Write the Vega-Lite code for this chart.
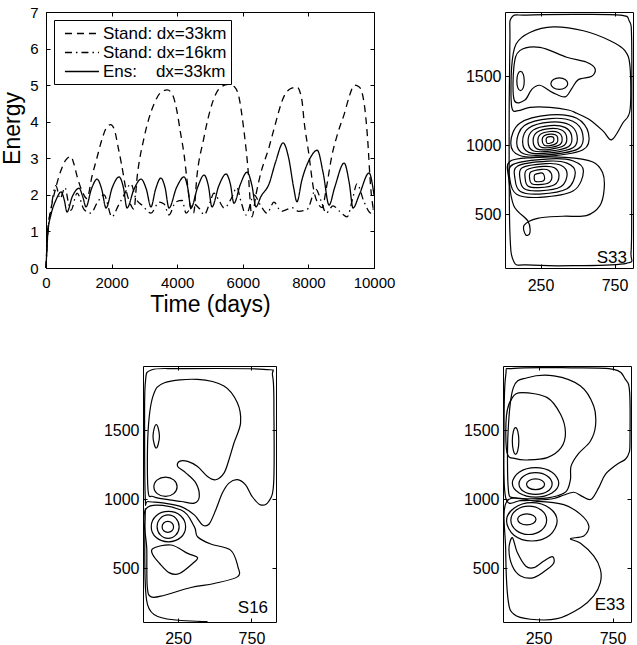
{
  "$schema": "https://vega.github.io/schema/vega-lite/v6.json",
  "padding": {"left": 1, "top": 4, "right": 0, "bottom": 0},
  "config": {
    "font": "Liberation Sans",
    "view": {"stroke": "black", "strokeWidth": 1},
    "axis": {"grid": false, "domain": false, "tickColor": "black", "tickSize": -4, "labelColor": "black", "labelFlush": false, "labelOverlap": false, "titleColor": "black", "titleFontWeight": "normal", "labelFont": "Liberation Sans", "titleFont": "Liberation Sans"}
  },
  "datasets": {
    "energy": [
      {"s":"Stand: dx=33km","t":0,"E":0},{"s":"Stand: dx=33km","t":50,"E":1.0},{"s":"Stand: dx=33km","t":150,"E":1.6},{"s":"Stand: dx=33km","t":300,"E":2.2},{"s":"Stand: dx=33km","t":450,"E":2.65},{"s":"Stand: dx=33km","t":600,"E":2.95},{"s":"Stand: dx=33km","t":760,"E":3.05},{"s":"Stand: dx=33km","t":850,"E":2.85},{"s":"Stand: dx=33km","t":950,"E":2.5},{"s":"Stand: dx=33km","t":1100,"E":2.1},{"s":"Stand: dx=33km","t":1250,"E":1.9},{"s":"Stand: dx=33km","t":1400,"E":2.5},{"s":"Stand: dx=33km","t":1550,"E":3.0},{"s":"Stand: dx=33km","t":1700,"E":3.5},{"s":"Stand: dx=33km","t":1850,"E":3.85},{"s":"Stand: dx=33km","t":1970,"E":3.92},{"s":"Stand: dx=33km","t":2080,"E":3.8},{"s":"Stand: dx=33km","t":2200,"E":3.3},{"s":"Stand: dx=33km","t":2300,"E":2.85},{"s":"Stand: dx=33km","t":2450,"E":2.1},{"s":"Stand: dx=33km","t":2600,"E":1.7},{"s":"Stand: dx=33km","t":2680,"E":1.6},{"s":"Stand: dx=33km","t":2780,"E":2.5},{"s":"Stand: dx=33km","t":3000,"E":3.6},{"s":"Stand: dx=33km","t":3300,"E":4.5},{"s":"Stand: dx=33km","t":3500,"E":4.8},{"s":"Stand: dx=33km","t":3700,"E":4.87},{"s":"Stand: dx=33km","t":3850,"E":4.75},{"s":"Stand: dx=33km","t":3990,"E":4.3},{"s":"Stand: dx=33km","t":4100,"E":3.7},{"s":"Stand: dx=33km","t":4210,"E":3.1},{"s":"Stand: dx=33km","t":4300,"E":2.4},{"s":"Stand: dx=33km","t":4420,"E":1.6},{"s":"Stand: dx=33km","t":4500,"E":1.5},{"s":"Stand: dx=33km","t":4600,"E":2.5},{"s":"Stand: dx=33km","t":4800,"E":3.5},{"s":"Stand: dx=33km","t":5000,"E":4.3},{"s":"Stand: dx=33km","t":5200,"E":4.8},{"s":"Stand: dx=33km","t":5340,"E":4.95},{"s":"Stand: dx=33km","t":5550,"E":5.02},{"s":"Stand: dx=33km","t":5750,"E":4.95},{"s":"Stand: dx=33km","t":5900,"E":4.6},{"s":"Stand: dx=33km","t":6000,"E":4.0},{"s":"Stand: dx=33km","t":6150,"E":2.8},{"s":"Stand: dx=33km","t":6280,"E":1.4},{"s":"Stand: dx=33km","t":6400,"E":2.0},{"s":"Stand: dx=33km","t":6550,"E":2.6},{"s":"Stand: dx=33km","t":6800,"E":3.3},{"s":"Stand: dx=33km","t":6950,"E":3.8},{"s":"Stand: dx=33km","t":7260,"E":4.7},{"s":"Stand: dx=33km","t":7450,"E":4.9},{"s":"Stand: dx=33km","t":7650,"E":4.95},{"s":"Stand: dx=33km","t":7800,"E":4.6},{"s":"Stand: dx=33km","t":7870,"E":4.0},{"s":"Stand: dx=33km","t":8000,"E":3.2},{"s":"Stand: dx=33km","t":8170,"E":2.1},{"s":"Stand: dx=33km","t":8300,"E":1.75},{"s":"Stand: dx=33km","t":8420,"E":1.65},{"s":"Stand: dx=33km","t":8550,"E":2.2},{"s":"Stand: dx=33km","t":8700,"E":3.0},{"s":"Stand: dx=33km","t":8900,"E":3.7},{"s":"Stand: dx=33km","t":9090,"E":4.2},{"s":"Stand: dx=33km","t":9250,"E":4.7},{"s":"Stand: dx=33km","t":9400,"E":5.0},{"s":"Stand: dx=33km","t":9550,"E":4.95},{"s":"Stand: dx=33km","t":9700,"E":4.5},{"s":"Stand: dx=33km","t":9800,"E":3.6},{"s":"Stand: dx=33km","t":9900,"E":2.2},{"s":"Stand: dx=33km","t":10000,"E":1.5},
      {"s":"Stand: dx=16km","t":0,"E":0},{"s":"Stand: dx=16km","t":60,"E":1.0},{"s":"Stand: dx=16km","t":150,"E":1.6},{"s":"Stand: dx=16km","t":300,"E":2.25},{"s":"Stand: dx=16km","t":430,"E":1.9},{"s":"Stand: dx=16km","t":580,"E":2.2},{"s":"Stand: dx=16km","t":680,"E":1.8},{"s":"Stand: dx=16km","t":760,"E":1.58},{"s":"Stand: dx=16km","t":950,"E":2.05},{"s":"Stand: dx=16km","t":1160,"E":1.6},{"s":"Stand: dx=16km","t":1370,"E":1.5},{"s":"Stand: dx=16km","t":1570,"E":1.8},{"s":"Stand: dx=16km","t":1770,"E":2.0},{"s":"Stand: dx=16km","t":2010,"E":1.4},{"s":"Stand: dx=16km","t":2200,"E":1.7},{"s":"Stand: dx=16km","t":2380,"E":2.0},{"s":"Stand: dx=16km","t":2590,"E":2.3},{"s":"Stand: dx=16km","t":2740,"E":1.9},{"s":"Stand: dx=16km","t":2950,"E":1.7},{"s":"Stand: dx=16km","t":3200,"E":1.5},{"s":"Stand: dx=16km","t":3450,"E":1.8},{"s":"Stand: dx=16km","t":3600,"E":1.75},{"s":"Stand: dx=16km","t":3750,"E":1.45},{"s":"Stand: dx=16km","t":3950,"E":1.8},{"s":"Stand: dx=16km","t":4150,"E":1.85},{"s":"Stand: dx=16km","t":4270,"E":1.5},{"s":"Stand: dx=16km","t":4500,"E":1.75},{"s":"Stand: dx=16km","t":4700,"E":1.6},{"s":"Stand: dx=16km","t":4820,"E":1.45},{"s":"Stand: dx=16km","t":5000,"E":1.8},{"s":"Stand: dx=16km","t":5120,"E":2.05},{"s":"Stand: dx=16km","t":5300,"E":1.8},{"s":"Stand: dx=16km","t":5430,"E":1.64},{"s":"Stand: dx=16km","t":5650,"E":1.9},{"s":"Stand: dx=16km","t":5820,"E":2.2},{"s":"Stand: dx=16km","t":5950,"E":1.8},{"s":"Stand: dx=16km","t":6100,"E":1.45},{"s":"Stand: dx=16km","t":6340,"E":2.0},{"s":"Stand: dx=16km","t":6550,"E":1.7},{"s":"Stand: dx=16km","t":6740,"E":1.5},{"s":"Stand: dx=16km","t":6950,"E":1.8},{"s":"Stand: dx=16km","t":7170,"E":1.55},{"s":"Stand: dx=16km","t":7350,"E":1.6},{"s":"Stand: dx=16km","t":7500,"E":1.65},{"s":"Stand: dx=16km","t":7700,"E":1.55},{"s":"Stand: dx=16km","t":7960,"E":1.6},{"s":"Stand: dx=16km","t":8230,"E":2.15},{"s":"Stand: dx=16km","t":8400,"E":1.8},{"s":"Stand: dx=16km","t":8540,"E":1.5},{"s":"Stand: dx=16km","t":8750,"E":1.7},{"s":"Stand: dx=16km","t":8950,"E":1.55},{"s":"Stand: dx=16km","t":9180,"E":1.4},{"s":"Stand: dx=16km","t":9350,"E":1.9},{"s":"Stand: dx=16km","t":9480,"E":2.3},{"s":"Stand: dx=16km","t":9700,"E":1.8},{"s":"Stand: dx=16km","t":9910,"E":1.5},{"s":"Stand: dx=16km","t":10000,"E":1.7},
      {"s":"Ens:\u00a0\u00a0\u00a0\u00a0dx=33km","t":0,"E":0},{"s":"Ens:\u00a0\u00a0\u00a0\u00a0dx=33km","t":60,"E":1.0},{"s":"Ens:\u00a0\u00a0\u00a0\u00a0dx=33km","t":150,"E":1.45},{"s":"Ens:\u00a0\u00a0\u00a0\u00a0dx=33km","t":300,"E":1.85},{"s":"Ens:\u00a0\u00a0\u00a0\u00a0dx=33km","t":460,"E":2.08},{"s":"Ens:\u00a0\u00a0\u00a0\u00a0dx=33km","t":560,"E":1.85},{"s":"Ens:\u00a0\u00a0\u00a0\u00a0dx=33km","t":640,"E":1.53},{"s":"Ens:\u00a0\u00a0\u00a0\u00a0dx=33km","t":800,"E":1.95},{"s":"Ens:\u00a0\u00a0\u00a0\u00a0dx=33km","t":1010,"E":2.18},{"s":"Ens:\u00a0\u00a0\u00a0\u00a0dx=33km","t":1120,"E":1.95},{"s":"Ens:\u00a0\u00a0\u00a0\u00a0dx=33km","t":1220,"E":1.67},{"s":"Ens:\u00a0\u00a0\u00a0\u00a0dx=33km","t":1380,"E":2.15},{"s":"Ens:\u00a0\u00a0\u00a0\u00a0dx=33km","t":1560,"E":2.43},{"s":"Ens:\u00a0\u00a0\u00a0\u00a0dx=33km","t":1700,"E":2.15},{"s":"Ens:\u00a0\u00a0\u00a0\u00a0dx=33km","t":1830,"E":1.64},{"s":"Ens:\u00a0\u00a0\u00a0\u00a0dx=33km","t":2020,"E":2.2},{"s":"Ens:\u00a0\u00a0\u00a0\u00a0dx=33km","t":2230,"E":2.49},{"s":"Ens:\u00a0\u00a0\u00a0\u00a0dx=33km","t":2360,"E":2.2},{"s":"Ens:\u00a0\u00a0\u00a0\u00a0dx=33km","t":2470,"E":1.64},{"s":"Ens:\u00a0\u00a0\u00a0\u00a0dx=33km","t":2680,"E":2.15},{"s":"Ens:\u00a0\u00a0\u00a0\u00a0dx=33km","t":2900,"E":2.43},{"s":"Ens:\u00a0\u00a0\u00a0\u00a0dx=33km","t":3060,"E":2.15},{"s":"Ens:\u00a0\u00a0\u00a0\u00a0dx=33km","t":3200,"E":1.67},{"s":"Ens:\u00a0\u00a0\u00a0\u00a0dx=33km","t":3340,"E":2.15},{"s":"Ens:\u00a0\u00a0\u00a0\u00a0dx=33km","t":3500,"E":2.46},{"s":"Ens:\u00a0\u00a0\u00a0\u00a0dx=33km","t":3630,"E":2.2},{"s":"Ens:\u00a0\u00a0\u00a0\u00a0dx=33km","t":3750,"E":1.64},{"s":"Ens:\u00a0\u00a0\u00a0\u00a0dx=33km","t":3980,"E":2.2},{"s":"Ens:\u00a0\u00a0\u00a0\u00a0dx=33km","t":4210,"E":2.49},{"s":"Ens:\u00a0\u00a0\u00a0\u00a0dx=33km","t":4320,"E":2.2},{"s":"Ens:\u00a0\u00a0\u00a0\u00a0dx=33km","t":4420,"E":1.64},{"s":"Ens:\u00a0\u00a0\u00a0\u00a0dx=33km","t":4620,"E":2.2},{"s":"Ens:\u00a0\u00a0\u00a0\u00a0dx=33km","t":4820,"E":2.54},{"s":"Ens:\u00a0\u00a0\u00a0\u00a0dx=33km","t":4950,"E":2.25},{"s":"Ens:\u00a0\u00a0\u00a0\u00a0dx=33km","t":5060,"E":1.67},{"s":"Ens:\u00a0\u00a0\u00a0\u00a0dx=33km","t":5270,"E":2.25},{"s":"Ens:\u00a0\u00a0\u00a0\u00a0dx=33km","t":5490,"E":2.57},{"s":"Ens:\u00a0\u00a0\u00a0\u00a0dx=33km","t":5620,"E":2.3},{"s":"Ens:\u00a0\u00a0\u00a0\u00a0dx=33km","t":5730,"E":1.77},{"s":"Ens:\u00a0\u00a0\u00a0\u00a0dx=33km","t":5930,"E":2.3},{"s":"Ens:\u00a0\u00a0\u00a0\u00a0dx=33km","t":6130,"E":2.62},{"s":"Ens:\u00a0\u00a0\u00a0\u00a0dx=33km","t":6280,"E":2.25},{"s":"Ens:\u00a0\u00a0\u00a0\u00a0dx=33km","t":6400,"E":1.67},{"s":"Ens:\u00a0\u00a0\u00a0\u00a0dx=33km","t":6550,"E":1.95},{"s":"Ens:\u00a0\u00a0\u00a0\u00a0dx=33km","t":6800,"E":2.3},{"s":"Ens:\u00a0\u00a0\u00a0\u00a0dx=33km","t":7000,"E":2.9},{"s":"Ens:\u00a0\u00a0\u00a0\u00a0dx=33km","t":7230,"E":3.42},{"s":"Ens:\u00a0\u00a0\u00a0\u00a0dx=33km","t":7400,"E":3.0},{"s":"Ens:\u00a0\u00a0\u00a0\u00a0dx=33km","t":7550,"E":2.2},{"s":"Ens:\u00a0\u00a0\u00a0\u00a0dx=33km","t":7650,"E":1.81},{"s":"Ens:\u00a0\u00a0\u00a0\u00a0dx=33km","t":7800,"E":2.4},{"s":"Ens:\u00a0\u00a0\u00a0\u00a0dx=33km","t":8050,"E":3.0},{"s":"Ens:\u00a0\u00a0\u00a0\u00a0dx=33km","t":8270,"E":3.22},{"s":"Ens:\u00a0\u00a0\u00a0\u00a0dx=33km","t":8450,"E":2.6},{"s":"Ens:\u00a0\u00a0\u00a0\u00a0dx=33km","t":8630,"E":1.72},{"s":"Ens:\u00a0\u00a0\u00a0\u00a0dx=33km","t":8800,"E":2.2},{"s":"Ens:\u00a0\u00a0\u00a0\u00a0dx=33km","t":9090,"E":2.87},{"s":"Ens:\u00a0\u00a0\u00a0\u00a0dx=33km","t":9250,"E":2.3},{"s":"Ens:\u00a0\u00a0\u00a0\u00a0dx=33km","t":9360,"E":1.64},{"s":"Ens:\u00a0\u00a0\u00a0\u00a0dx=33km","t":9550,"E":2.0},{"s":"Ens:\u00a0\u00a0\u00a0\u00a0dx=33km","t":9850,"E":2.6},{"s":"Ens:\u00a0\u00a0\u00a0\u00a0dx=33km","t":10000,"E":2.0}
    ],
    "labels": [
      {"p":"S33","x":834,"y":146,"label":"S33"},
      {"p":"S16","x":863,"y":175,"label":"S16"},
      {"p":"E33","x":834,"y":197,"label":"E33"}
    ],
    "contours": [
      {"p":"S33","c":"o1","i":0,"x":54,"y":1924},{"p":"S33","c":"o1","i":1,"x":156,"y":1943},{"p":"S33","c":"o1","i":2,"x":472,"y":1948},{"p":"S33","c":"o1","i":3,"x":788,"y":1943},{"p":"S33","c":"o1","i":4,"x":850,"y":1900},{"p":"S33","c":"o1","i":5,"x":866,"y":1757},{"p":"S33","c":"o1","i":6,"x":866,"y":1088},{"p":"S33","c":"o1","i":7,"x":866,"y":610},{"p":"S33","c":"o1","i":8,"x":862,"y":227},{"p":"S33","c":"o1","i":9,"x":830,"y":144},{"p":"S33","c":"o1","i":10,"x":472,"y":127},{"p":"S33","c":"o1","i":11,"x":156,"y":132},{"p":"S33","c":"o1","i":12,"x":70,"y":156},{"p":"S33","c":"o1","i":13,"x":43,"y":371},{"p":"S33","c":"o1","i":14,"x":38,"y":1088},{"p":"S33","c":"o1","i":15,"x":43,"y":1757},
      {"p":"S33","c":"c2","i":0,"x":55,"y":1279},{"p":"S33","c":"c2","i":1,"x":55,"y":1566},{"p":"S33","c":"c2","i":2,"x":85,"y":1733},{"p":"S33","c":"c2","i":3,"x":178,"y":1817},{"p":"S33","c":"c2","i":4,"x":336,"y":1857},{"p":"S33","c":"c2","i":5,"x":540,"y":1829},{"p":"S33","c":"c2","i":6,"x":721,"y":1757},{"p":"S33","c":"c2","i":7,"x":820,"y":1685},{"p":"S33","c":"c2","i":8,"x":855,"y":1566},{"p":"S33","c":"c2","i":9,"x":855,"y":1255},{"p":"S33","c":"c2","i":10,"x":805,"y":1159},{"p":"S33","c":"c2","i":11,"x":732,"y":1040},{"p":"S33","c":"c2","i":12,"x":675,"y":1100},{"p":"S33","c":"c2","i":13,"x":585,"y":1183},{"p":"S33","c":"c2","i":14,"x":495,"y":1231},{"p":"S33","c":"c2","i":15,"x":438,"y":1255},{"p":"S33","c":"c2","i":16,"x":314,"y":1274},{"p":"S33","c":"c2","i":17,"x":178,"y":1274},{"p":"S33","c":"c2","i":18,"x":99,"y":1250},
      {"p":"S33","c":"c3","i":0,"x":72,"y":1327},{"p":"S33","c":"c3","i":1,"x":70,"y":1566},{"p":"S33","c":"c3","i":2,"x":110,"y":1685},{"p":"S33","c":"c3","i":3,"x":246,"y":1709},{"p":"S33","c":"c3","i":4,"x":427,"y":1637},{"p":"S33","c":"c3","i":5,"x":562,"y":1601},{"p":"S33","c":"c3","i":6,"x":619,"y":1554},{"p":"S33","c":"c3","i":7,"x":596,"y":1499},{"p":"S33","c":"c3","i":8,"x":506,"y":1475},{"p":"S33","c":"c3","i":9,"x":461,"y":1410},{"p":"S33","c":"c3","i":10,"x":416,"y":1350},{"p":"S33","c":"c3","i":11,"x":336,"y":1379},{"p":"S33","c":"c3","i":12,"x":246,"y":1434},{"p":"S33","c":"c3","i":13,"x":190,"y":1403},{"p":"S33","c":"c3","i":14,"x":144,"y":1327},
      {"p":"S33","c":"l1","i":0,"x":115,"y":1535},{"p":"S33","c":"l1","i":1,"x":133,"y":1515},{"p":"S33","c":"l1","i":2,"x":140,"y":1465},{"p":"S33","c":"l1","i":3,"x":133,"y":1415},{"p":"S33","c":"l1","i":4,"x":115,"y":1395},{"p":"S33","c":"l1","i":5,"x":97,"y":1415},{"p":"S33","c":"l1","i":6,"x":90,"y":1465},{"p":"S33","c":"l1","i":7,"x":97,"y":1515},
      {"p":"S33","c":"l2","i":0,"x":377,"y":1487},{"p":"S33","c":"l2","i":1,"x":417,"y":1475},{"p":"S33","c":"l2","i":2,"x":434,"y":1446},{"p":"S33","c":"l2","i":3,"x":417,"y":1417},{"p":"S33","c":"l2","i":4,"x":377,"y":1405},{"p":"S33","c":"l2","i":5,"x":337,"y":1417},{"p":"S33","c":"l2","i":6,"x":320,"y":1446},{"p":"S33","c":"l2","i":7,"x":337,"y":1475},
      {"p":"S33","c":"n1","i":0,"x":314,"y":1219},{"p":"S33","c":"n1","i":1,"x":495,"y":1195},{"p":"S33","c":"n1","i":2,"x":574,"y":1088},{"p":"S33","c":"n1","i":3,"x":540,"y":968},{"p":"S33","c":"n1","i":4,"x":314,"y":920},{"p":"S33","c":"n1","i":5,"x":110,"y":925},{"p":"S33","c":"n1","i":6,"x":49,"y":1016},{"p":"S33","c":"n1","i":7,"x":110,"y":1159},
      {"p":"S33","c":"n2","i":0,"x":314,"y":1193},{"p":"S33","c":"n2","i":1,"x":468,"y":1173},{"p":"S33","c":"n2","i":2,"x":535,"y":1082},{"p":"S33","c":"n2","i":3,"x":506,"y":975},{"p":"S33","c":"n2","i":4,"x":314,"y":932},{"p":"S33","c":"n2","i":5,"x":141,"y":936},{"p":"S33","c":"n2","i":6,"x":89,"y":1020},{"p":"S33","c":"n2","i":7,"x":141,"y":1142},
      {"p":"S33","c":"n3","i":0,"x":314,"y":1167},{"p":"S33","c":"n3","i":1,"x":441,"y":1150},{"p":"S33","c":"n3","i":2,"x":496,"y":1075},{"p":"S33","c":"n3","i":3,"x":472,"y":983},{"p":"S33","c":"n3","i":4,"x":314,"y":944},{"p":"S33","c":"n3","i":5,"x":171,"y":948},{"p":"S33","c":"n3","i":6,"x":129,"y":1025},{"p":"S33","c":"n3","i":7,"x":171,"y":1125},
      {"p":"S33","c":"n4","i":0,"x":314,"y":1142},{"p":"S33","c":"n4","i":1,"x":415,"y":1129},{"p":"S33","c":"n4","i":2,"x":460,"y":1069},{"p":"S33","c":"n4","i":3,"x":441,"y":991},{"p":"S33","c":"n4","i":4,"x":314,"y":957},{"p":"S33","c":"n4","i":5,"x":200,"y":960},{"p":"S33","c":"n4","i":6,"x":166,"y":1029},{"p":"S33","c":"n4","i":7,"x":200,"y":1109},
      {"p":"S33","c":"n5","i":0,"x":314,"y":1120},{"p":"S33","c":"n5","i":1,"x":392,"y":1110},{"p":"S33","c":"n5","i":2,"x":426,"y":1063},{"p":"S33","c":"n5","i":3,"x":411,"y":999},{"p":"S33","c":"n5","i":4,"x":314,"y":970},{"p":"S33","c":"n5","i":5,"x":226,"y":973},{"p":"S33","c":"n5","i":6,"x":200,"y":1033},{"p":"S33","c":"n5","i":7,"x":226,"y":1094},
      {"p":"S33","c":"n6","i":0,"x":314,"y":1099},{"p":"S33","c":"n6","i":1,"x":370,"y":1092},{"p":"S33","c":"n6","i":2,"x":395,"y":1058},{"p":"S33","c":"n6","i":3,"x":384,"y":1007},{"p":"S33","c":"n6","i":4,"x":314,"y":983},{"p":"S33","c":"n6","i":5,"x":251,"y":986},{"p":"S33","c":"n6","i":6,"x":232,"y":1036},{"p":"S33","c":"n6","i":7,"x":251,"y":1080},
      {"p":"S33","c":"n7","i":0,"x":314,"y":1080},{"p":"S33","c":"n7","i":1,"x":350,"y":1075},{"p":"S33","c":"n7","i":2,"x":366,"y":1054},{"p":"S33","c":"n7","i":3,"x":360,"y":1016},{"p":"S33","c":"n7","i":4,"x":314,"y":997},{"p":"S33","c":"n7","i":5,"x":275,"y":1000},{"p":"S33","c":"n7","i":6,"x":261,"y":1039},{"p":"S33","c":"n7","i":7,"x":275,"y":1068},
      {"p":"S33","c":"n8","i":0,"x":314,"y":1062},{"p":"S33","c":"n8","i":1,"x":332,"y":1060},{"p":"S33","c":"n8","i":2,"x":340,"y":1049},{"p":"S33","c":"n8","i":3,"x":337,"y":1026},{"p":"S33","c":"n8","i":4,"x":314,"y":1014},{"p":"S33","c":"n8","i":5,"x":294,"y":1015},{"p":"S33","c":"n8","i":6,"x":288,"y":1042},{"p":"S33","c":"n8","i":7,"x":294,"y":1056},
      {"p":"S33","c":"s1","i":0,"x":315,"y":901},{"p":"S33","c":"s1","i":1,"x":472,"y":885},{"p":"S33","c":"s1","i":2,"x":540,"y":813},{"p":"S33","c":"s1","i":3,"x":472,"y":669},{"p":"S33","c":"s1","i":4,"x":246,"y":622},{"p":"S33","c":"s1","i":5,"x":88,"y":645},{"p":"S33","c":"s1","i":6,"x":43,"y":753},{"p":"S33","c":"s1","i":7,"x":65,"y":861},
      {"p":"S33","c":"s2","i":0,"x":301,"y":884},{"p":"S33","c":"s2","i":1,"x":429,"y":870},{"p":"S33","c":"s2","i":2,"x":485,"y":802},{"p":"S33","c":"s2","i":3,"x":429,"y":684},{"p":"S33","c":"s2","i":4,"x":244,"y":646},{"p":"S33","c":"s2","i":5,"x":114,"y":664},{"p":"S33","c":"s2","i":6,"x":78,"y":753},{"p":"S33","c":"s2","i":7,"x":96,"y":849},
      {"p":"S33","c":"s3","i":0,"x":286,"y":866},{"p":"S33","c":"s3","i":1,"x":387,"y":854},{"p":"S33","c":"s3","i":2,"x":430,"y":791},{"p":"S33","c":"s3","i":3,"x":387,"y":699},{"p":"S33","c":"s3","i":4,"x":242,"y":669},{"p":"S33","c":"s3","i":5,"x":141,"y":684},{"p":"S33","c":"s3","i":6,"x":112,"y":753},{"p":"S33","c":"s3","i":7,"x":126,"y":836},
      {"p":"S33","c":"s4","i":0,"x":272,"y":846},{"p":"S33","c":"s4","i":1,"x":344,"y":836},{"p":"S33","c":"s4","i":2,"x":375,"y":781},{"p":"S33","c":"s4","i":3,"x":344,"y":714},{"p":"S33","c":"s4","i":4,"x":240,"y":693},{"p":"S33","c":"s4","i":5,"x":167,"y":703},{"p":"S33","c":"s4","i":6,"x":147,"y":753},{"p":"S33","c":"s4","i":7,"x":157,"y":821},
      {"p":"S33","c":"s5","i":0,"x":259,"y":825},{"p":"S33","c":"s5","i":1,"x":306,"y":817},{"p":"S33","c":"s5","i":2,"x":327,"y":771},{"p":"S33","c":"s5","i":3,"x":306,"y":728},{"p":"S33","c":"s5","i":4,"x":238,"y":714},{"p":"S33","c":"s5","i":5,"x":191,"y":721},{"p":"S33","c":"s5","i":6,"x":177,"y":753},{"p":"S33","c":"s5","i":7,"x":184,"y":805},
      {"p":"S33","c":"s6","i":0,"x":246,"y":798},{"p":"S33","c":"s6","i":1,"x":268,"y":794},{"p":"S33","c":"s6","i":2,"x":278,"y":761},{"p":"S33","c":"s6","i":3,"x":268,"y":741},{"p":"S33","c":"s6","i":4,"x":237,"y":735},{"p":"S33","c":"s6","i":5,"x":214,"y":738},{"p":"S33","c":"s6","i":6,"x":208,"y":753},{"p":"S33","c":"s6","i":7,"x":211,"y":786},
      {"p":"S33","c":"c4","i":0,"x":40,"y":880},{"p":"S33","c":"c4","i":1,"x":200,"y":910},{"p":"S33","c":"c4","i":2,"x":420,"y":912},{"p":"S33","c":"c4","i":3,"x":600,"y":880},{"p":"S33","c":"c4","i":4,"x":670,"y":800},{"p":"S33","c":"c4","i":5,"x":680,"y":680},{"p":"S33","c":"c4","i":6,"x":650,"y":560},{"p":"S33","c":"c4","i":7,"x":560,"y":490},{"p":"S33","c":"c4","i":8,"x":400,"y":485},{"p":"S33","c":"c4","i":9,"x":230,"y":470},{"p":"S33","c":"c4","i":10,"x":140,"y":420},{"p":"S33","c":"c4","i":11,"x":150,"y":350},{"p":"S33","c":"c4","i":12,"x":178,"y":365},{"p":"S33","c":"c4","i":13,"x":165,"y":450},{"p":"S33","c":"c4","i":14,"x":70,"y":560},{"p":"S33","c":"c4","i":15,"x":36,"y":753},

      {"p":"S16","c":"n1","i":0,"x":28,"y":995},{"p":"S16","c":"n1","i":1,"x":23,"y":1480},{"p":"S16","c":"n1","i":2,"x":28,"y":1844},{"p":"S16","c":"n1","i":3,"x":68,"y":1936},{"p":"S16","c":"n1","i":4,"x":271,"y":1946},{"p":"S16","c":"n1","i":5,"x":834,"y":1941},{"p":"S16","c":"n1","i":6,"x":894,"y":1892},{"p":"S16","c":"n1","i":7,"x":903,"y":1601},{"p":"S16","c":"n1","i":8,"x":901,"y":1116},{"p":"S16","c":"n1","i":9,"x":867,"y":983},{"p":"S16","c":"n1","i":10,"x":811,"y":959},{"p":"S16","c":"n1","i":11,"x":755,"y":1019},{"p":"S16","c":"n1","i":12,"x":710,"y":1104},{"p":"S16","c":"n1","i":13,"x":654,"y":1141},{"p":"S16","c":"n1","i":14,"x":597,"y":1116},{"p":"S16","c":"n1","i":15,"x":552,"y":1044},{"p":"S16","c":"n1","i":16,"x":507,"y":922},{"p":"S16","c":"n1","i":17,"x":462,"y":820},{"p":"S16","c":"n1","i":18,"x":417,"y":813},{"p":"S16","c":"n1","i":19,"x":361,"y":886},{"p":"S16","c":"n1","i":20,"x":271,"y":946},{"p":"S16","c":"n1","i":21,"x":158,"y":971},{"p":"S16","c":"n1","i":22,"x":46,"y":983},
      {"p":"S16","c":"n2","i":0,"x":46,"y":1068},{"p":"S16","c":"n2","i":1,"x":46,"y":1480},{"p":"S16","c":"n2","i":2,"x":80,"y":1747},{"p":"S16","c":"n2","i":3,"x":158,"y":1844},{"p":"S16","c":"n2","i":4,"x":383,"y":1868},{"p":"S16","c":"n2","i":5,"x":563,"y":1820},{"p":"S16","c":"n2","i":6,"x":654,"y":1698},{"p":"S16","c":"n2","i":7,"x":676,"y":1553},{"p":"S16","c":"n2","i":8,"x":631,"y":1407},{"p":"S16","c":"n2","i":9,"x":597,"y":1286},{"p":"S16","c":"n2","i":10,"x":563,"y":1189},{"p":"S16","c":"n2","i":11,"x":507,"y":1141},{"p":"S16","c":"n2","i":12,"x":451,"y":1165},{"p":"S16","c":"n2","i":13,"x":383,"y":1237},{"p":"S16","c":"n2","i":14,"x":316,"y":1274},{"p":"S16","c":"n2","i":15,"x":260,"y":1274},{"p":"S16","c":"n2","i":16,"x":248,"y":1237},{"p":"S16","c":"n2","i":17,"x":305,"y":1189},{"p":"S16","c":"n2","i":18,"x":372,"y":1116},{"p":"S16","c":"n2","i":19,"x":395,"y":1019},{"p":"S16","c":"n2","i":20,"x":361,"y":971},{"p":"S16","c":"n2","i":21,"x":271,"y":983},{"p":"S16","c":"n2","i":22,"x":158,"y":1000},{"p":"S16","c":"n2","i":23,"x":80,"y":1019},
      {"p":"S16","c":"nl","i":0,"x":165,"y":1160},{"p":"S16","c":"nl","i":1,"x":221,"y":1140},{"p":"S16","c":"nl","i":2,"x":244,"y":1090},{"p":"S16","c":"nl","i":3,"x":221,"y":1040},{"p":"S16","c":"nl","i":4,"x":165,"y":1020},{"p":"S16","c":"nl","i":5,"x":109,"y":1040},{"p":"S16","c":"nl","i":6,"x":86,"y":1090},{"p":"S16","c":"nl","i":7,"x":109,"y":1140},
      {"p":"S16","c":"sm","i":0,"x":102,"y":1541},{"p":"S16","c":"sm","i":1,"x":115,"y":1516},{"p":"S16","c":"sm","i":2,"x":124,"y":1456},{"p":"S16","c":"sm","i":3,"x":115,"y":1396},{"p":"S16","c":"sm","i":4,"x":102,"y":1371},{"p":"S16","c":"sm","i":5,"x":89,"y":1396},{"p":"S16","c":"sm","i":6,"x":80,"y":1456},{"p":"S16","c":"sm","i":7,"x":89,"y":1516},
      {"p":"S16","c":"s2","i":0,"x":35,"y":934},{"p":"S16","c":"s2","i":1,"x":271,"y":922},{"p":"S16","c":"s2","i":2,"x":361,"y":801},{"p":"S16","c":"s2","i":3,"x":383,"y":728},{"p":"S16","c":"s2","i":4,"x":473,"y":675},{"p":"S16","c":"s2","i":5,"x":608,"y":631},{"p":"S16","c":"s2","i":6,"x":658,"y":510},{"p":"S16","c":"s2","i":7,"x":654,"y":437},{"p":"S16","c":"s2","i":8,"x":496,"y":389},{"p":"S16","c":"s2","i":9,"x":338,"y":360},{"p":"S16","c":"s2","i":10,"x":158,"y":304},{"p":"S16","c":"s2","i":11,"x":68,"y":292},{"p":"S16","c":"s2","i":12,"x":41,"y":365},{"p":"S16","c":"s2","i":13,"x":38,"y":631},
      {"p":"S16","c":"s3","i":0,"x":80,"y":643},{"p":"S16","c":"s3","i":1,"x":203,"y":668},{"p":"S16","c":"s3","i":2,"x":316,"y":607},{"p":"S16","c":"s3","i":3,"x":383,"y":578},{"p":"S16","c":"s3","i":4,"x":350,"y":534},{"p":"S16","c":"s3","i":5,"x":260,"y":461},{"p":"S16","c":"s3","i":6,"x":192,"y":466},{"p":"S16","c":"s3","i":7,"x":125,"y":534},{"p":"S16","c":"s3","i":8,"x":80,"y":595},
      {"p":"S16","c":"sa","i":0,"x":181,"y":839},{"p":"S16","c":"sa","i":1,"x":209,"y":827},{"p":"S16","c":"sa","i":2,"x":220,"y":799},{"p":"S16","c":"sa","i":3,"x":209,"y":771},{"p":"S16","c":"sa","i":4,"x":181,"y":759},{"p":"S16","c":"sa","i":5,"x":153,"y":771},{"p":"S16","c":"sa","i":6,"x":142,"y":799},{"p":"S16","c":"sa","i":7,"x":153,"y":827},
      {"p":"S16","c":"sb","i":0,"x":183,"y":886},{"p":"S16","c":"sb","i":1,"x":236,"y":861},{"p":"S16","c":"sb","i":2,"x":258,"y":801},{"p":"S16","c":"sb","i":3,"x":236,"y":741},{"p":"S16","c":"sb","i":4,"x":183,"y":716},{"p":"S16","c":"sb","i":5,"x":130,"y":741},{"p":"S16","c":"sb","i":6,"x":108,"y":801},{"p":"S16","c":"sb","i":7,"x":130,"y":861},
      {"p":"S16","c":"sc","i":0,"x":185,"y":911},{"p":"S16","c":"sc","i":1,"x":268,"y":880},{"p":"S16","c":"sc","i":2,"x":302,"y":801},{"p":"S16","c":"sc","i":3,"x":268,"y":722},{"p":"S16","c":"sc","i":4,"x":185,"y":691},{"p":"S16","c":"sc","i":5,"x":102,"y":722},{"p":"S16","c":"sc","i":6,"x":68,"y":801},{"p":"S16","c":"sc","i":7,"x":102,"y":880},
      {"p":"S16","c":"open1","i":0,"x":28,"y":934},{"p":"S16","c":"open1","i":1,"x":23,"y":700},{"p":"S16","c":"open1","i":2,"x":25,"y":400},{"p":"S16","c":"open1","i":3,"x":35,"y":219},{"p":"S16","c":"open1","i":4,"x":91,"y":141},{"p":"S16","c":"open1","i":5,"x":271,"y":118},{"p":"S16","c":"open1","i":6,"x":451,"y":112},

      {"p":"E33","c":"n1","i":0,"x":28,"y":1011},{"p":"E33","c":"n1","i":1,"x":17,"y":1482},{"p":"E33","c":"n1","i":2,"x":28,"y":1893},{"p":"E33","c":"n1","i":3,"x":84,"y":1948},{"p":"E33","c":"n1","i":4,"x":466,"y":1952},{"p":"E33","c":"n1","i":5,"x":758,"y":1941},{"p":"E33","c":"n1","i":6,"x":837,"y":1868},{"p":"E33","c":"n1","i":7,"x":866,"y":1772},{"p":"E33","c":"n1","i":8,"x":868,"y":1410},{"p":"E33","c":"n1","i":9,"x":862,"y":1337},{"p":"E33","c":"n1","i":10,"x":837,"y":1289},{"p":"E33","c":"n1","i":11,"x":781,"y":1253},{"p":"E33","c":"n1","i":12,"x":702,"y":1180},{"p":"E33","c":"n1","i":13,"x":657,"y":1084},{"p":"E33","c":"n1","i":14,"x":605,"y":999},{"p":"E33","c":"n1","i":15,"x":545,"y":1020},{"p":"E33","c":"n1","i":16,"x":489,"y":1050},{"p":"E33","c":"n1","i":17,"x":421,"y":1030},{"p":"E33","c":"n1","i":18,"x":354,"y":1005},{"p":"E33","c":"n1","i":19,"x":241,"y":993},{"p":"E33","c":"n1","i":20,"x":129,"y":990},
      {"p":"E33","c":"n2","i":0,"x":46,"y":1071},{"p":"E33","c":"n2","i":1,"x":44,"y":1482},{"p":"E33","c":"n2","i":2,"x":80,"y":1808},{"p":"E33","c":"n2","i":3,"x":174,"y":1880},{"p":"E33","c":"n2","i":4,"x":354,"y":1893},{"p":"E33","c":"n2","i":5,"x":534,"y":1820},{"p":"E33","c":"n2","i":6,"x":623,"y":1675},{"p":"E33","c":"n2","i":7,"x":635,"y":1530},{"p":"E33","c":"n2","i":8,"x":600,"y":1420},{"p":"E33","c":"n2","i":9,"x":520,"y":1330},{"p":"E33","c":"n2","i":10,"x":470,"y":1240},{"p":"E33","c":"n2","i":11,"x":466,"y":1144},{"p":"E33","c":"n2","i":12,"x":440,"y":1060},{"p":"E33","c":"n2","i":13,"x":380,"y":1025},{"p":"E33","c":"n2","i":14,"x":300,"y":1008},{"p":"E33","c":"n2","i":15,"x":196,"y":1003},{"p":"E33","c":"n2","i":16,"x":84,"y":1010},
      {"p":"E33","c":"lobe","i":0,"x":37,"y":1337},{"p":"E33","c":"lobe","i":1,"x":33,"y":1603},{"p":"E33","c":"lobe","i":2,"x":73,"y":1736},{"p":"E33","c":"lobe","i":3,"x":140,"y":1772},{"p":"E33","c":"lobe","i":4,"x":309,"y":1736},{"p":"E33","c":"lobe","i":5,"x":399,"y":1615},{"p":"E33","c":"lobe","i":6,"x":432,"y":1482},{"p":"E33","c":"lobe","i":7,"x":403,"y":1373},{"p":"E33","c":"lobe","i":8,"x":309,"y":1301},{"p":"E33","c":"lobe","i":9,"x":174,"y":1284},{"p":"E33","c":"lobe","i":10,"x":95,"y":1294},
      {"p":"E33","c":"sm","i":0,"x":95,"y":1519},{"p":"E33","c":"sm","i":1,"x":110,"y":1491},{"p":"E33","c":"sm","i":2,"x":117,"y":1422},{"p":"E33","c":"sm","i":3,"x":110,"y":1353},{"p":"E33","c":"sm","i":4,"x":95,"y":1325},{"p":"E33","c":"sm","i":5,"x":80,"y":1353},{"p":"E33","c":"sm","i":6,"x":73,"y":1422},{"p":"E33","c":"sm","i":7,"x":80,"y":1491},
      {"p":"E33","c":"en3","i":0,"x":230,"y":1228},{"p":"E33","c":"en3","i":1,"x":341,"y":1195},{"p":"E33","c":"en3","i":2,"x":387,"y":1117},{"p":"E33","c":"en3","i":3,"x":341,"y":1045},{"p":"E33","c":"en3","i":4,"x":230,"y":1015},{"p":"E33","c":"en3","i":5,"x":119,"y":1045},{"p":"E33","c":"en3","i":6,"x":73,"y":1117},{"p":"E33","c":"en3","i":7,"x":119,"y":1195},
      {"p":"E33","c":"en2","i":0,"x":230,"y":1192},{"p":"E33","c":"en2","i":1,"x":309,"y":1168},{"p":"E33","c":"en2","i":2,"x":342,"y":1110},{"p":"E33","c":"en2","i":3,"x":309,"y":1055},{"p":"E33","c":"en2","i":4,"x":230,"y":1035},{"p":"E33","c":"en2","i":5,"x":151,"y":1055},{"p":"E33","c":"en2","i":6,"x":118,"y":1110},{"p":"E33","c":"en2","i":7,"x":151,"y":1168},
      {"p":"E33","c":"en1","i":0,"x":230,"y":1147},{"p":"E33","c":"en1","i":1,"x":273,"y":1136},{"p":"E33","c":"en1","i":2,"x":291,"y":1108},{"p":"E33","c":"en1","i":3,"x":273,"y":1080},{"p":"E33","c":"en1","i":4,"x":230,"y":1069},{"p":"E33","c":"en1","i":5,"x":187,"y":1080},{"p":"E33","c":"en1","i":6,"x":169,"y":1108},{"p":"E33","c":"en1","i":7,"x":187,"y":1136},
      {"p":"E33","c":"es3","i":0,"x":205,"y":975},{"p":"E33","c":"es3","i":1,"x":326,"y":935},{"p":"E33","c":"es3","i":2,"x":376,"y":842},{"p":"E33","c":"es3","i":3,"x":326,"y":739},{"p":"E33","c":"es3","i":4,"x":205,"y":697},{"p":"E33","c":"es3","i":5,"x":84,"y":739},{"p":"E33","c":"es3","i":6,"x":34,"y":842},{"p":"E33","c":"es3","i":7,"x":84,"y":935},
      {"p":"E33","c":"es2","i":0,"x":184,"y":950},{"p":"E33","c":"es2","i":1,"x":270,"y":920},{"p":"E33","c":"es2","i":2,"x":305,"y":849},{"p":"E33","c":"es2","i":3,"x":270,"y":775},{"p":"E33","c":"es2","i":4,"x":184,"y":744},{"p":"E33","c":"es2","i":5,"x":98,"y":775},{"p":"E33","c":"es2","i":6,"x":63,"y":849},{"p":"E33","c":"es2","i":7,"x":98,"y":920},
      {"p":"E33","c":"es1","i":0,"x":171,"y":894},{"p":"E33","c":"es1","i":1,"x":215,"y":882},{"p":"E33","c":"es1","i":2,"x":233,"y":854},{"p":"E33","c":"es1","i":3,"x":215,"y":826},{"p":"E33","c":"es1","i":4,"x":171,"y":814},{"p":"E33","c":"es1","i":5,"x":127,"y":826},{"p":"E33","c":"es1","i":6,"x":109,"y":854},{"p":"E33","c":"es1","i":7,"x":127,"y":882},
      {"p":"E33","c":"sb","i":0,"x":35,"y":983},{"p":"E33","c":"sb","i":1,"x":241,"y":984},{"p":"E33","c":"sb","i":2,"x":421,"y":960},{"p":"E33","c":"sb","i":3,"x":534,"y":890},{"p":"E33","c":"sb","i":4,"x":590,"y":806},{"p":"E33","c":"sb","i":5,"x":556,"y":733},{"p":"E33","c":"sb","i":6,"x":466,"y":714},{"p":"E33","c":"sb","i":7,"x":534,"y":680},{"p":"E33","c":"sb","i":8,"x":623,"y":589},{"p":"E33","c":"sb","i":9,"x":668,"y":492},{"p":"E33","c":"sb","i":10,"x":668,"y":395},{"p":"E33","c":"sb","i":11,"x":623,"y":299},{"p":"E33","c":"sb","i":12,"x":534,"y":214},{"p":"E33","c":"sb","i":13,"x":376,"y":134},{"p":"E33","c":"sb","i":14,"x":196,"y":130},{"p":"E33","c":"sb","i":15,"x":84,"y":166},{"p":"E33","c":"sb","i":16,"x":44,"y":274},{"p":"E33","c":"sb","i":17,"x":28,"y":637},
      {"p":"E33","c":"st","i":0,"x":73,"y":721},{"p":"E33","c":"st","i":1,"x":107,"y":613},{"p":"E33","c":"st","i":2,"x":163,"y":516},{"p":"E33","c":"st","i":3,"x":219,"y":504},{"p":"E33","c":"st","i":4,"x":286,"y":552},{"p":"E33","c":"st","i":5,"x":343,"y":584},{"p":"E33","c":"st","i":6,"x":354,"y":540},{"p":"E33","c":"st","i":7,"x":309,"y":492},{"p":"E33","c":"st","i":8,"x":219,"y":432},{"p":"E33","c":"st","i":9,"x":129,"y":444},{"p":"E33","c":"st","i":10,"x":73,"y":516},{"p":"E33","c":"st","i":11,"x":50,"y":637}
    ]
  },
  "spacing": 47,
  "vconcat": [
    {
      "bounds": "flush",
      "spacing": 131,
      "hconcat": [
        {
          "width": 328,
          "height": 256,
          "data": {"name": "energy"},
          "resolve": {"axis": {"x": "independent", "y": "independent"}},
          "layer": [
            {
              "mark": {"type": "line", "color": "black", "strokeWidth": 1.3, "interpolate": "monotone"},
              "encoding": {
                "x": {"field": "t", "type": "quantitative", "scale": {"domain": [0, 10000], "nice": false}, "axis": {"title": "Time (days)", "values": [0, 2000, 4000, 6000, 8000, 10000], "format": "d", "labelFontSize": 15, "labelPadding": 11.5, "titleFontSize": 23, "titlePadding": 3}},
                "y": {"field": "E", "type": "quantitative", "scale": {"domain": [0, 7], "nice": false}, "axis": {"title": "Energy", "values": [0, 1, 2, 3, 4, 5, 6, 7], "labelFontSize": 15, "labelPadding": 12, "titleFontSize": 23, "titlePadding": 5, "titleY": 116}},
                "strokeDash": {"field": "s", "type": "nominal", "scale": {"domain": ["Stand: dx=33km", "Stand: dx=16km", "Ens:\u00a0\u00a0\u00a0\u00a0dx=33km"], "range": [[7, 5], [7, 4, 1.5, 4], [1, 0]]},
                  "legend": {"title": null, "orient": "top-left", "offset": 8, "padding": 4, "strokeColor": "black", "fillColor": "white", "labelFontSize": 17, "labelColor": "black", "symbolType": "M-0.3,0L3.7,0", "symbolSize": 289, "symbolStrokeWidth": 1.3, "symbolStrokeColor": "black", "rowPadding": 1, "labelOffset": 26, "labelLimit": 300, "cornerRadius": 0}}
              }
            },
            {
              "mark": {"type": "point", "opacity": 0},
              "encoding": {
                "x": {"field": "t", "type": "quantitative", "axis": {"orient": "top", "labels": false, "title": null, "values": [0, 2000, 4000, 6000, 8000, 10000]}},
                "y": {"field": "E", "type": "quantitative", "axis": {"orient": "right", "labels": false, "title": null, "values": [0, 1, 2, 3, 4, 5, 6, 7]}}
              }
            }
          ]
        },
        {
          "width": 128,
          "height": 256,
          "resolve": {"axis": {"x": "independent", "y": "independent"}},
          "layer": [
            {
              "data": {"name": "contours"},
              "transform": [{"filter": "datum.p === 'S33' && indexof(datum.c, 'open') < 0"}],
              "mark": {"type": "line", "color": "black", "strokeWidth": 1.2, "interpolate": "cardinal-closed"},
              "encoding": {
                "x": {"field": "x", "type": "quantitative", "scale": {"domain": [10, 875], "nice": false, "zero": false}, "axis": {"title": null, "values": [250, 750], "format": "d", "labelFontSize": 16, "labelPadding": 13}},
                "y": {"field": "y", "type": "quantitative", "scale": {"domain": [110, 1965], "nice": false, "zero": false}, "axis": {"title": null, "values": [500, 1000, 1500], "format": "d", "labelFontSize": 16, "labelPadding": 8}},
                "detail": {"field": "c"},
                "order": {"field": "i", "type": "quantitative"}
              }
            },
            {
              "data": {"name": "labels"},
              "transform": [{"filter": "datum.p === 'S33'"}],
              "mark": {"type": "text", "align": "right", "baseline": "alphabetic", "fontSize": 17, "color": "black"},
              "encoding": {
                "x": {"field": "x", "type": "quantitative", "axis": {"orient": "top", "labels": false, "title": null, "values": [250, 750]}},
                "y": {"field": "y", "type": "quantitative", "axis": {"orient": "right", "labels": false, "title": null, "values": [500, 1000, 1500]}},
                "text": {"field": "label"}
              }
            }
          ]
        }
      ]
    },
    {
      "spacing": 184,
      "hconcat": [
        {
          "spacing": 35,
          "hconcat": [
            {"width": 20, "height": 10, "view": {"stroke": "transparent"}, "data": {"values": [{"a": 0}]}, "mark": {"type": "point", "opacity": 0}, "encoding": {}},
            {
              "width": 133,
              "height": 256,
              "resolve": {"axis": {"x": "independent", "y": "independent"}},
              "layer": [
                {
                  "data": {"name": "contours"},
                  "transform": [{"filter": "datum.p === 'S16' && indexof(datum.c, 'open') < 0"}],
                  "mark": {"type": "line", "color": "black", "strokeWidth": 1.2, "interpolate": "cardinal-closed"},
                  "encoding": {
                    "x": {"field": "x", "type": "quantitative", "scale": {"domain": [12, 917], "nice": false, "zero": false}, "axis": {"title": null, "values": [250, 750], "format": "d", "labelFontSize": 16, "labelPadding": 12}},
                    "y": {"field": "y", "type": "quantitative", "scale": {"domain": [110, 1965], "nice": false, "zero": false}, "axis": {"title": null, "values": [500, 1000, 1500], "format": "d", "labelFontSize": 16, "labelPadding": 8}},
                    "detail": {"field": "c"},
                    "order": {"field": "i", "type": "quantitative"}
                  }
                },
                {
                  "data": {"name": "contours"},
                  "transform": [{"filter": "datum.p === 'S16' && indexof(datum.c, 'open') === 0"}],
                  "mark": {"type": "line", "color": "black", "strokeWidth": 1.2, "interpolate": "basis"},
                  "encoding": {
                    "x": {"field": "x", "type": "quantitative", "axis": null},
                    "y": {"field": "y", "type": "quantitative", "axis": null},
                    "detail": {"field": "c"},
                    "order": {"field": "i", "type": "quantitative"}
                  }
                },
                {
                  "data": {"name": "labels"},
                  "transform": [{"filter": "datum.p === 'S16'"}],
                  "mark": {"type": "text", "align": "right", "baseline": "alphabetic", "fontSize": 17, "color": "black"},
                  "encoding": {
                    "x": {"field": "x", "type": "quantitative", "axis": {"orient": "top", "labels": false, "title": null, "values": [250, 750]}},
                    "y": {"field": "y", "type": "quantitative", "axis": {"orient": "right", "labels": false, "title": null, "values": [500, 1000, 1500]}},
                    "text": {"field": "label"}
                  }
                }
              ]
            }
          ]
        },
        {
          "width": 128,
          "height": 256,
          "resolve": {"axis": {"x": "independent", "y": "independent"}},
          "layer": [
            {
              "data": {"name": "contours"},
              "transform": [{"filter": "datum.p === 'E33' && indexof(datum.c, 'open') < 0"}],
              "mark": {"type": "line", "color": "black", "strokeWidth": 1.2, "interpolate": "cardinal-closed"},
              "encoding": {
                "x": {"field": "x", "type": "quantitative", "scale": {"domain": [10, 875], "nice": false, "zero": false}, "axis": {"title": null, "values": [250, 750], "format": "d", "labelFontSize": 16, "labelPadding": 12}},
                "y": {"field": "y", "type": "quantitative", "scale": {"domain": [110, 1965], "nice": false, "zero": false}, "axis": {"title": null, "values": [500, 1000, 1500], "format": "d", "labelFontSize": 16, "labelPadding": 8}},
                "detail": {"field": "c"},
                "order": {"field": "i", "type": "quantitative"}
              }
            },
            {
              "data": {"name": "labels"},
              "transform": [{"filter": "datum.p === 'E33'"}],
              "mark": {"type": "text", "align": "right", "baseline": "alphabetic", "fontSize": 17, "color": "black"},
              "encoding": {
                "x": {"field": "x", "type": "quantitative", "axis": {"orient": "top", "labels": false, "title": null, "values": [250, 750]}},
                "y": {"field": "y", "type": "quantitative", "axis": {"orient": "right", "labels": false, "title": null, "values": [500, 1000, 1500]}},
                "text": {"field": "label"}
              }
            }
          ]
        }
      ]
    }
  ]
}
